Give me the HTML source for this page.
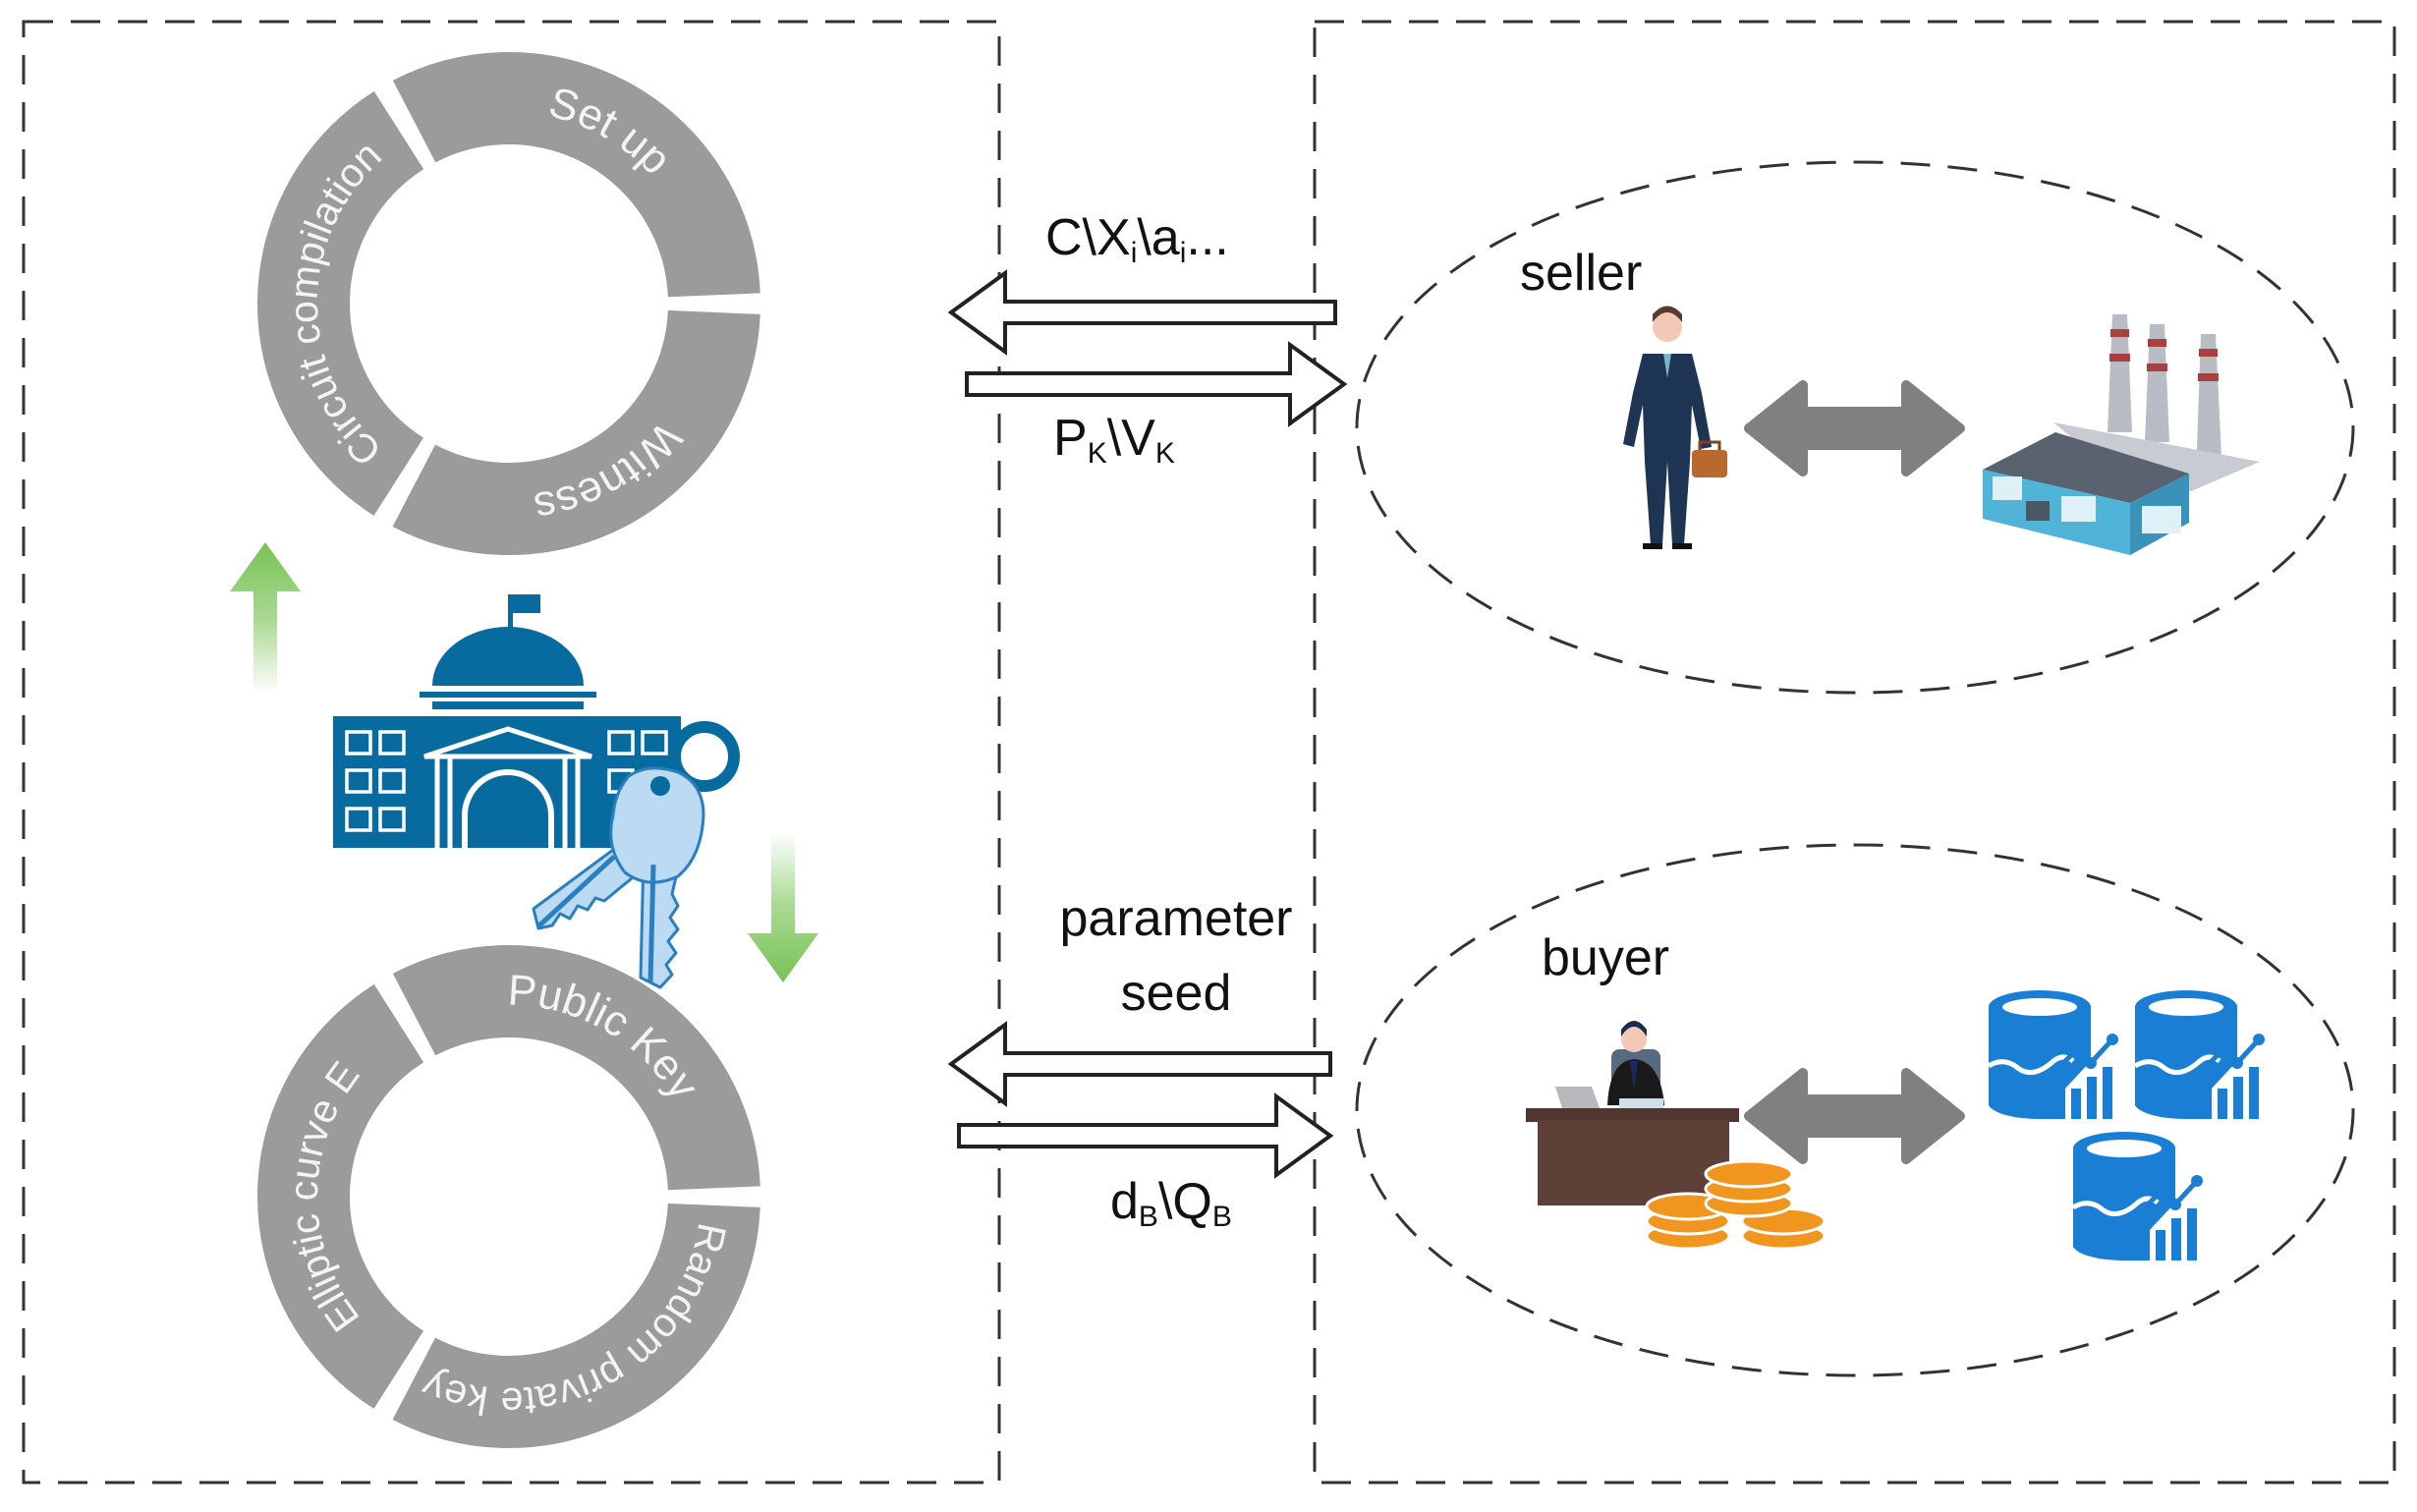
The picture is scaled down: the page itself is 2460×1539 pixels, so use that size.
<!DOCTYPE html>
<html><head><meta charset="utf-8"><style>
html,body{margin:0;padding:0;background:#fff}
svg{display:block}
</style></head><body>
<svg width="2460" height="1539" viewBox="0 0 2460 1539" xmlns="http://www.w3.org/2000/svg" font-family="'Liberation Sans', sans-serif">
<defs>
<linearGradient id="gup" x1="0" y1="0" x2="0" y2="1"><stop offset="0" stop-color="#78c257"/><stop offset="0.5" stop-color="#a8d890"/><stop offset="1" stop-color="#ffffff"/></linearGradient>
<linearGradient id="gdn" x1="0" y1="1" x2="0" y2="0"><stop offset="0" stop-color="#78c257"/><stop offset="0.5" stop-color="#a8d890"/><stop offset="1" stop-color="#ffffff"/></linearGradient>
<path id="p1" d="M451.3,125.7 A195,195 0 0 1 710.0,275.1"/>
<path id="p2" d="M710.0,342.9 A195,195 0 0 1 451.3,492.3"/>
<path id="p3" d="M409.0,470.7 A195,195 0 0 1 409.0,147.3"/>
<path id="p4" d="M451.3,1034.7 A195,195 0 0 1 710.0,1184.1"/>
<path id="p5" d="M711.9,1238.4 A195,195 0 0 1 432.5,1393.3"/>
<path id="p6" d="M409.0,1379.7 A195,195 0 0 1 409.0,1056.3"/>
</defs>

<rect x="24" y="22" width="993" height="1487" fill="none" stroke="#333" stroke-width="3" stroke-dasharray="30 18"/>
<rect x="1338" y="22" width="1099" height="1487" fill="none" stroke="#333" stroke-width="3" stroke-dasharray="30 18"/>

<circle cx="518" cy="309" r="209" fill="none" stroke="#9b9b9b" stroke-width="94" stroke-dasharray="419.7 18" stroke-dashoffset="428.7"/>
<circle cx="518" cy="1218" r="209" fill="none" stroke="#9b9b9b" stroke-width="94" stroke-dasharray="419.7 18" stroke-dashoffset="428.7"/>
<g fill="#f4f4f4" font-size="44" text-anchor="middle">
<text><textPath href="#p1" startOffset="50%">Set up</textPath></text>
<text><textPath href="#p2" startOffset="50%">Witness</textPath></text>
<text font-size="41"><textPath href="#p3" startOffset="50%">Circuit compilation</textPath></text>
<text><textPath href="#p4" startOffset="50%">Public Key</textPath></text>
<text font-size="41"><textPath href="#p5" startOffset="50%">Random private key</textPath></text>
<text font-size="41"><textPath href="#p6" startOffset="50%">Elliptic curve E</textPath></text>
</g>

<polygon points="270,552 306,602 282,602 282,706 258,706 258,602 234,602" fill="url(#gup)"/>
<polygon points="797,1000 833,950 809,950 809,847 785,847 785,950 761,950" fill="url(#gdn)"/>

<g fill="#086b9f">
<rect x="517" y="605" width="33" height="19"/>
<rect x="517" y="605" width="5" height="35"/>
<path d="M440,698 A77,60 0 0 1 594,698 Z"/>
<rect x="427" y="704" width="180" height="6"/>
<rect x="440" y="714" width="154" height="8"/>
<rect x="339" y="729" width="354" height="134"/>
<circle cx="717" cy="770" r="30" fill="none" stroke="#086b9f" stroke-width="12"/>
</g>
<g fill="none" stroke="#fff" stroke-width="3.5">
<rect x="353" y="745" width="24" height="22"/><rect x="387" y="745" width="24" height="22"/>
<rect x="353" y="784" width="24" height="22"/><rect x="387" y="784" width="24" height="22"/>
<rect x="353" y="823" width="24" height="22"/><rect x="387" y="823" width="24" height="22"/>
<rect x="620" y="745" width="24" height="22"/><rect x="654" y="745" width="24" height="22"/>
<rect x="620" y="784" width="24" height="22"/>
<path d="M432,770 L517,742 L602,770 Z" stroke-width="5"/>
<path d="M445,772 V863 M458,772 V863 M575,772 V863 M588,772 V863" stroke-width="5"/>
<path d="M473,863 V830 A44,44 0 0 1 561,830 V863" stroke-width="6"/>
</g>
<g stroke="#2a7fc0" stroke-width="3" fill="#bcdaf2" stroke-linejoin="round">
<path d="M628,862 L543,925 L548,945 L562,942 L570,930 L580,935 L588,922 L598,926 L606,914 L615,917 L660,880 Z"/>
<path d="M655,870 L652,995 L672,1005 L684,992 L678,982 L688,970 L680,958 L690,946 L682,934 L690,922 L684,910 L692,875 Z"/>
<path d="M640,790 Q660,776 690,786 Q716,798 716,830 Q714,872 690,892 Q660,906 636,888 Q616,862 624,830 Q626,806 640,790 Z"/>
</g>
<path d="M548,943 L625,872 M665,880 L662,1000" stroke="#2a7fc0" stroke-width="5"/>
<circle cx="672" cy="800" r="10" fill="#086b9f"/>

<g fill="#fff" stroke="#222" stroke-width="4" stroke-linejoin="miter">
<polygon points="968,318 1023,278 1023,307 1359,307 1359,329 1023,329 1023,358"/>
<polygon points="984,380 1313,380 1313,351 1368,391 1313,431 1313,402 984,402"/>
<polygon points="968,1083 1023,1043 1023,1072 1354,1072 1354,1094 1023,1094 1023,1123"/>
<polygon points="976,1145 1299,1145 1299,1116 1354,1156 1299,1196 1299,1167 976,1167"/>
</g>

<g font-size="52" fill="#111">
<text x="1064" y="259">C\X<tspan font-size="30" dy="8">i</tspan><tspan dy="-8">\a</tspan><tspan font-size="30" dy="8">i</tspan><tspan dy="-8">...</tspan></text>
<text x="1072" y="463">P<tspan font-size="30" dy="8">K</tspan><tspan dy="-8">\V</tspan><tspan font-size="30" dy="8">K</tspan></text>
<text x="1197" y="952" text-anchor="middle">parameter</text>
<text x="1197" y="1028" text-anchor="middle">seed</text>
<text x="1130" y="1240">d<tspan font-size="30" dy="8">B</tspan><tspan dy="-8">\Q</tspan><tspan font-size="30" dy="8">B</tspan></text>
<text x="1547" y="295">seller</text>
<text x="1569" y="992">buyer</text>
</g>

<ellipse cx="1888" cy="435" rx="507" ry="270" fill="none" stroke="#333" stroke-width="3" stroke-dasharray="30 18"/>
<ellipse cx="1888" cy="1130" rx="507" ry="270" fill="none" stroke="#333" stroke-width="3" stroke-dasharray="30 18"/>

<g fill="#808080" stroke="#808080" stroke-width="10" stroke-linejoin="round">
<polygon points="1780,436 1835,392 1835,419 1940,419 1940,392 1995,436 1940,480 1940,453 1835,453 1835,480"/>
<polygon points="1780,1136 1835,1092 1835,1119 1940,1119 1940,1092 1995,1136 1940,1180 1940,1153 1835,1153 1835,1180"/>
</g>

<g>
<circle cx="1697" cy="333" r="15" fill="#f2c8b8"/>
<path d="M1682,328 Q1697,308 1712,328 L1712,320 Q1697,303 1682,320 Z" fill="#5a3a28"/>
<path d="M1672,360 L1722,360 L1732,400 L1742,455 L1731,457 L1722,412 L1720,470 L1714,555 L1702,555 L1697,470 L1692,555 L1680,555 L1674,470 L1672,412 L1663,455 L1652,452 L1662,400 Z" fill="#1d3553"/>
<path d="M1693,360 L1701,360 L1697,385 Z" fill="#7ab8c8"/>
<rect x="1672" y="553" width="20" height="6" fill="#111"/><rect x="1702" y="553" width="20" height="6" fill="#111"/>
<rect x="1722" y="458" width="36" height="28" rx="4" fill="#b8692e"/>
<path d="M1730,458 V450 H1750 V458" fill="none" stroke="#7a4520" stroke-width="3"/>
</g>

<g>
<path d="M2150,320 L2165,320 L2170,440 L2145,440 Z" fill="#b8bcc4"/>
<path d="M2188,330 L2203,330 L2208,450 L2183,450 Z" fill="#b8bcc4"/>
<path d="M2240,340 L2255,340 L2262,485 L2235,485 Z" fill="#b8bcc4"/>
<g fill="#a84040"><rect x="2148" y="335" width="19" height="8"/><rect x="2147" y="360" width="21" height="8"/><rect x="2186" y="345" width="19" height="8"/><rect x="2185" y="370" width="21" height="8"/><rect x="2238" y="355" width="19" height="8"/><rect x="2237" y="380" width="21" height="8"/></g>
<path d="M2090,430 L2300,470 L2230,500 L2150,480 Z" fill="#c8ccd2"/>
<path d="M2018,478 L2092,440 L2228,482 L2168,512 Z" fill="#5a6270"/>
<path d="M2018,478 L2168,512 L2168,565 L2018,528 Z" fill="#4fb4d8"/>
<path d="M2168,512 L2228,482 L2228,532 L2168,565 Z" fill="#3a92b8"/>
<g fill="#dff0f6"><rect x="2028" y="485" width="30" height="24"/><rect x="2098" y="505" width="35" height="26"/><rect x="2180" y="515" width="40" height="28"/></g>
<rect x="2062" y="510" width="24" height="20" fill="#4a5866"/>
</g>

<g>
<rect x="1640" y="1068" width="50" height="45" rx="8" fill="#566a80"/>
<circle cx="1663" cy="1058" r="13" fill="#f2c8b8"/>
<path d="M1650,1055 Q1663,1035 1676,1055 L1676,1048 Q1663,1030 1650,1048 Z" fill="#1a2a48"/>
<path d="M1636,1125 Q1638,1080 1663,1078 Q1690,1080 1694,1125 Z" fill="#1a1a1a"/>
<path d="M1659,1080 L1667,1080 L1663,1110 Z" fill="#1a2a60"/>
<path d="M1583,1106 L1620,1106 L1628,1128 L1590,1128 Z" fill="#b8b8bc"/>
<rect x="1648" y="1118" width="45" height="10" fill="#cfe0ea"/>
<rect x="1553" y="1128" width="217" height="14" fill="#503530"/>
<rect x="1565" y="1140" width="195" height="87" fill="#5f4038"/>
<g fill="#f0961e" stroke="#fff" stroke-width="3">
<ellipse cx="1718" cy="1258" rx="42" ry="13"/><ellipse cx="1718" cy="1243" rx="42" ry="13"/><ellipse cx="1718" cy="1228" rx="42" ry="13"/>
<ellipse cx="1815" cy="1258" rx="42" ry="13"/><ellipse cx="1815" cy="1243" rx="42" ry="13"/>
<ellipse cx="1780" cy="1225" rx="44" ry="13"/><ellipse cx="1780" cy="1210" rx="44" ry="13"/><ellipse cx="1780" cy="1195" rx="44" ry="13"/>
</g>
</g>

<g id="db">
<path d="M2024,1025 A52,17 0 0 1 2128,1025 V1080 L2100,1110 V1139 H2076 A52,17 0 0 1 2024,1125 Z" fill="#1a7fd4"/>
<ellipse cx="2076" cy="1025" rx="38" ry="9" fill="#fff"/>
<path d="M2024,1085 Q2040,1075 2055,1088 Q2070,1098 2090,1080 Q2100,1072 2110,1080" fill="none" stroke="#fff" stroke-width="5"/>
<g fill="#1a7fd4"><rect x="2092" y="1100" width="10" height="39"/><rect x="2108" y="1108" width="10" height="31"/><rect x="2124" y="1096" width="10" height="43"/><rect x="2140" y="1086" width="10" height="53"/></g>
<path d="M2092,1090 L2112,1070 L2128,1082 L2150,1058" fill="none" stroke="#1a7fd4" stroke-width="5"/>
<g fill="#1a7fd4"><circle cx="2092" cy="1090" r="6"/><circle cx="2112" cy="1070" r="6"/><circle cx="2128" cy="1082" r="6"/><circle cx="2150" cy="1058" r="6"/></g>
</g>
<use href="#db" x="149" y="0"/>
<use href="#db" x="86" y="144"/>
</svg>
</body></html>
